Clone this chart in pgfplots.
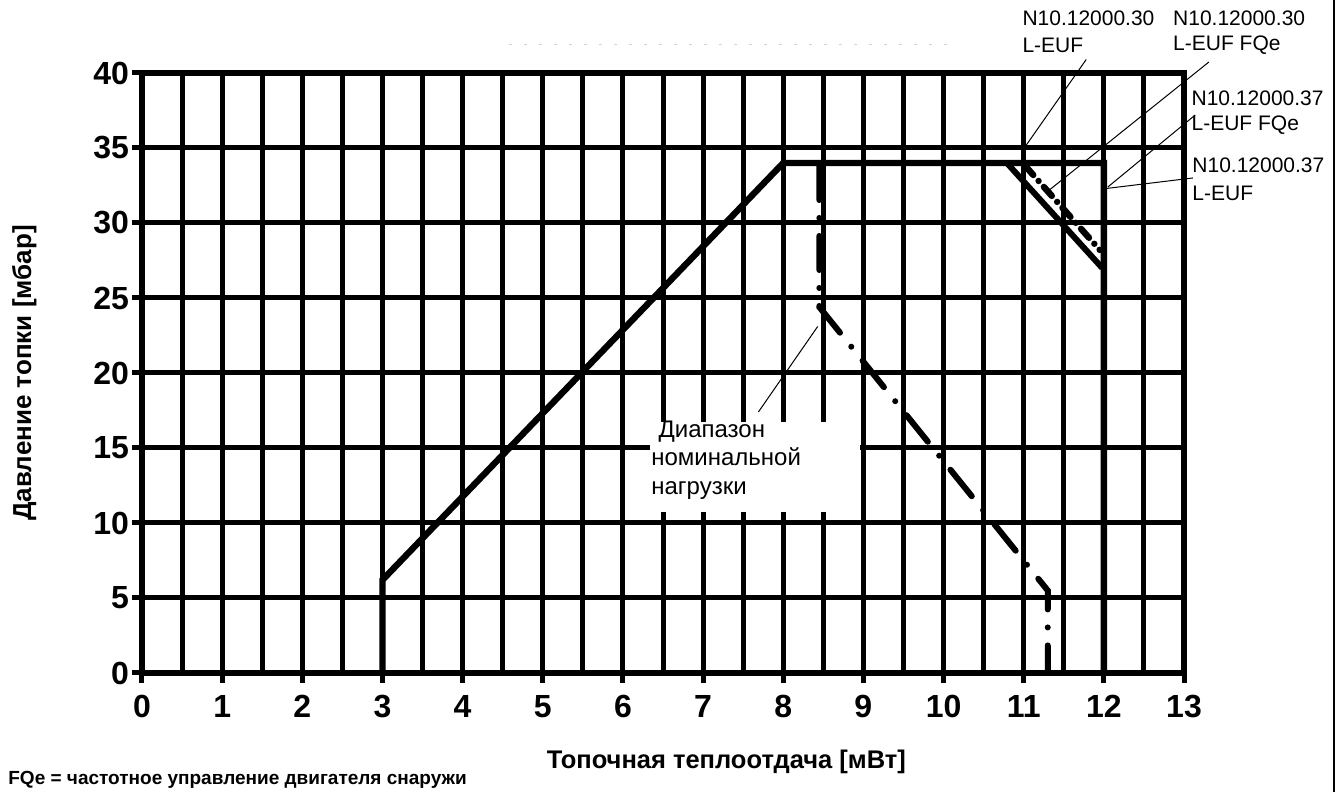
\documentclass[border=0pt]{standalone}
\usepackage{pgfplots}
\pgfplotsset{compat=1.18}
\usepackage{fontspec}
\setmainfont{Liberation Sans}
\begin{document}
\begin{tikzpicture}
\path[use as bounding box] (-71pt,-59.5pt) rectangle (600.5pt,336.5pt);
\begin{axis}[
  at={(0pt,0pt)}, anchor=south west,
  width=521pt, height=300pt, scale only axis,
  xmin=0, xmax=13, ymin=0, ymax=40,
  xtick={0,1,...,13}, minor xtick={0.5,1.5,...,12.5},
  ytick={0,5,...,40},
  grid=both,
  major grid style={black, line width=2.5pt},
  minor grid style={black, line width=2.5pt},
  axis line style={black, line width=3pt},
  major tick style={black, line width=2.5pt},
  major tick length=5pt, minor tick length=0pt,
  tick align=outside,
  xtick pos=lower, ytick pos=left,
  ticklabel style={font=\fontsize{16}{18}\selectfont\bfseries},
  xticklabel style={yshift=-2.5pt},
  yticklabel style={xshift=2pt},
  /pgf/number format/assume math mode=true,
  clip=false,
]
% main envelope
\addplot[black, line width=3.2pt, line join=miter] coordinates {(3,0) (3,6.2) (8,34) (12,34) (12,0)};
% N10.12000.30 L-EUF
\addplot[black, line width=3pt] coordinates {(10.79,34) (11.98,27)};
% nominal load range boundary (dash-dot)
\addplot[black, line width=3pt, line cap=round, dash pattern=on 17pt off 9pt on 0pt off 9pt] coordinates {(8.45,33.8) (8.45,24.4) (11.3,5.5) (11.3,0)};
% N10.12000.30 L-EUF FQe (dash-dot)
\addplot[black, line width=3.2pt, line cap=round, dash pattern=on 6pt off 4pt on 0pt off 4pt] coordinates {(11.02,33.8) (11.95,28.2)};
% white label box
\fill[white] (axis cs:6.34,10.7) rectangle (axis cs:8.96,16.7);
\node[anchor=base west, inner sep=0pt, font=\fontsize{12}{14}\selectfont] at (axis cs:6.44,15.67) {Диапазон};
\node[anchor=base west, inner sep=0pt, font=\fontsize{12}{14}\selectfont] at (axis cs:6.35,13.8) {номинальной};
\node[anchor=base west, inner sep=0pt, font=\fontsize{12}{14}\selectfont] at (axis cs:6.35,11.93) {нагрузки};
\draw[line width=0.5pt] (axis cs:7.69,17.4) -- (axis cs:8.43,23.1);
% right labels
\node[anchor=west, inner sep=0pt, font=\fontsize{10.5}{12}\selectfont] at (axis cs:10.98,43.67) {N10.12000.30};
\node[anchor=west, inner sep=0pt, font=\fontsize{10.5}{12}\selectfont] at (axis cs:10.98,41.87) {L-EUF};
\node[anchor=west, inner sep=0pt, font=\fontsize{10.5}{12}\selectfont] at (axis cs:12.86,43.67) {N10.12000.30};
\node[anchor=west, inner sep=0pt, font=\fontsize{10.5}{12}\selectfont] at (axis cs:12.86,41.87) {L-EUF FQe};
\node[anchor=west, inner sep=0pt, font=\fontsize{10.5}{12}\selectfont] at (axis cs:13.09,38.33) {N10.12000.37};
\node[anchor=west, inner sep=0pt, font=\fontsize{10.5}{12}\selectfont] at (axis cs:13.09,36.53) {L-EUF FQe};
\node[anchor=west, inner sep=0pt, font=\fontsize{10.5}{12}\selectfont] at (axis cs:13.10,33.87) {N10.12000.37};
\node[anchor=west, inner sep=0pt, font=\fontsize{10.5}{12}\selectfont] at (axis cs:13.10,32.0) {L-EUF};
\draw[line width=0.5pt] (axis cs:11.78,40.9) -- (axis cs:11.02,35.1);
\draw[line width=0.5pt] (axis cs:13.31,40.73) -- (axis cs:11.29,32.07);
\draw[line width=0.5pt] (axis cs:13.14,37.2) -- (axis cs:12.05,32.4);
\draw[line width=0.5pt] (axis cs:13.11,33.0) -- (axis cs:12.03,32.3);
% faint remnant at top
\draw[gray!35, line width=0.7pt, dash pattern=on 1.5pt off 6pt] (axis cs:4.58,41.9) -- (axis cs:10.18,41.9);
% axis labels and footnote
\node[font=\fontsize{12.75}{14}\selectfont\bfseries] at (axis cs:7.29,-5.93) {Топочная теплоотдача [мВт]};
\node[rotate=90, font=\fontsize{13}{15}\selectfont\bfseries] at (axis cs:-1.47,20) {Давление топки [мбар]};
\node[anchor=west, inner sep=0pt, font=\fontsize{9.5}{11}\selectfont\bfseries] at (axis cs:-1.672,-7.13) {FQe = частотное управление двигателя снаружи};
\end{axis}
\draw[line width=0.6pt] (596pt,-59.5pt) -- (596pt,336.5pt);
\end{tikzpicture}
\end{document}
